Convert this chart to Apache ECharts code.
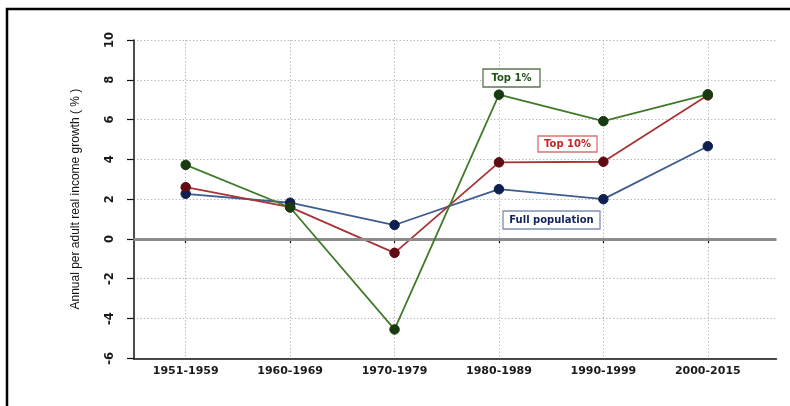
<!DOCTYPE html>
<html>
<head>
<meta charset="utf-8">
<script src="https://cdn.jsdelivr.net/npm/echarts@6/dist/echarts.min.js"></script>
<style>
html,body{margin:0;padding:0;background:#fff;}
#chart{width:790px;height:406px;}
</style>
</head>
<body>
<div id="chart"></div>
<script>
const categories = ['1951-1959','1960-1969','1970-1979','1980-1989','1990-1999','2000-2015'];
const top1 = [3.72, 1.58, -4.55, 7.25, 5.92, 7.27];
const top10 = [2.6, 1.6, -0.7, 3.85, 3.88, 7.22];
const fullPop = [2.27, 1.82, 0.7, 2.5, 2.0, 4.66];
const yTicks = {min: -6, max: 10, interval: 2};
const yName = 'Annual per adult real income growth ( % )';
const seriesNames = ['Full population', 'Top 10%', 'Top 1%'];

const chart = echarts.init(document.getElementById('chart'), null, {renderer: 'canvas'});

const dotted = {color: '#bdbdbd', width: 1, type: [1.5, 2]};
const tickFont = {fontFamily: 'DejaVu Sans', fontWeight: 'bold', fontSize: 11, color: '#1a1a1a'};

function lineSeries(name, data, lineColor, markerColor, z) {
  return {
    name: name, type: 'line', data: data,
    xAxisIndex: 0, yAxisIndex: 0,
    symbol: 'circle', symbolSize: 9.5, z: z,
    lineStyle: {color: lineColor, width: 1.8},
    itemStyle: {color: markerColor, borderColor: markerColor},
    emphasis: {disabled: true}, animation: false
  };
}

function box(x, y, w, h, text, textColor, borderColor) {
  return [
    {type: 'rect', shape: {x: x, y: y, width: w, height: h}, z: 50,
     style: {fill: '#fff', stroke: borderColor, lineWidth: 1.3}},
    {type: 'text', x: x + w / 2, y: y + h / 2, z: 51,
     style: {text: text, fill: textColor, font: 'bold 10px "DejaVu Sans"', align: 'center', verticalAlign: 'middle'}}
  ];
}

const option = {
  animation: false,
  grid: [
    {left: 133.5, right: 30, top: 40, bottom: 47.7},
    {left: 133.5, right: 13.5, top: 40, bottom: 47.7}
  ],
  xAxis: [
    {
      gridIndex: 0, type: 'category', data: categories, boundaryGap: true,
      axisLine: {show: false},
      axisTick: {show: true, alignWithLabel: true, length: 4, lineStyle: {color: '#111', width: 1.2}},
      axisLabel: Object.assign({margin: 7}, tickFont),
      splitLine: {show: true, alignWithLabel: true, lineStyle: dotted}
    },
    {
      gridIndex: 1, type: 'value', min: 0, max: 1,
      axisLine: {show: true, onZero: false, lineStyle: {color: '#111', width: 1.5}},
      axisTick: {show: false}, axisLabel: {show: false}, splitLine: {show: false}
    }
  ],
  yAxis: [
    {gridIndex: 0, type: 'value', min: yTicks.min, max: yTicks.max, interval: yTicks.interval, show: false},
    {
      gridIndex: 1, type: 'value', min: yTicks.min, max: yTicks.max, interval: yTicks.interval,
      name: yName, nameLocation: 'middle', nameRotate: 90, nameGap: 52,
      nameTextStyle: {fontFamily: 'Liberation Sans', fontSize: 12, color: '#111'},
      axisLine: {show: true, onZero: false, lineStyle: {color: '#111', width: 1.5}},
      axisTick: {show: true, length: 6.5, lineStyle: {color: '#111', width: 1.2}},
      axisLabel: Object.assign({rotate: 90, margin: 17}, tickFont, {fontSize: 11.5}),
      splitLine: {show: true, lineStyle: dotted}
    }
  ],
  series: [
    {
      type: 'line', data: [], xAxisIndex: 1, yAxisIndex: 1, z: 1,
      markLine: {
        silent: true, symbol: 'none', animation: false,
        label: {show: false},
        lineStyle: {color: '#8c8c8c', width: 3, type: 'solid'},
        data: [{yAxis: 0}]
      }
    },
    lineSeries(seriesNames[0], fullPop, '#3d5c92', '#0e1f50', 3),
    lineSeries(seriesNames[1], top10, '#a83434', '#600a12', 4),
    lineSeries(seriesNames[2], top1, '#427a2c', '#173a10', 5)
  ],
  graphic: [
    {type: 'rect', shape: {x: 7, y: 9, width: 900, height: 500}, z: 60,
     style: {fill: 'none', stroke: '#000', lineWidth: 2.5}}
  ].concat(
    box(483, 69, 57, 18, 'Top 1%', '#235219', '#5b7550'),
    box(538, 136, 59, 16, 'Top 10%', '#c0262a', '#d87474'),
    box(503, 211, 97, 18, 'Full population', '#12245a', '#7f90b0')
  )
};
chart.setOption(option);
</script>
</body>
</html>
